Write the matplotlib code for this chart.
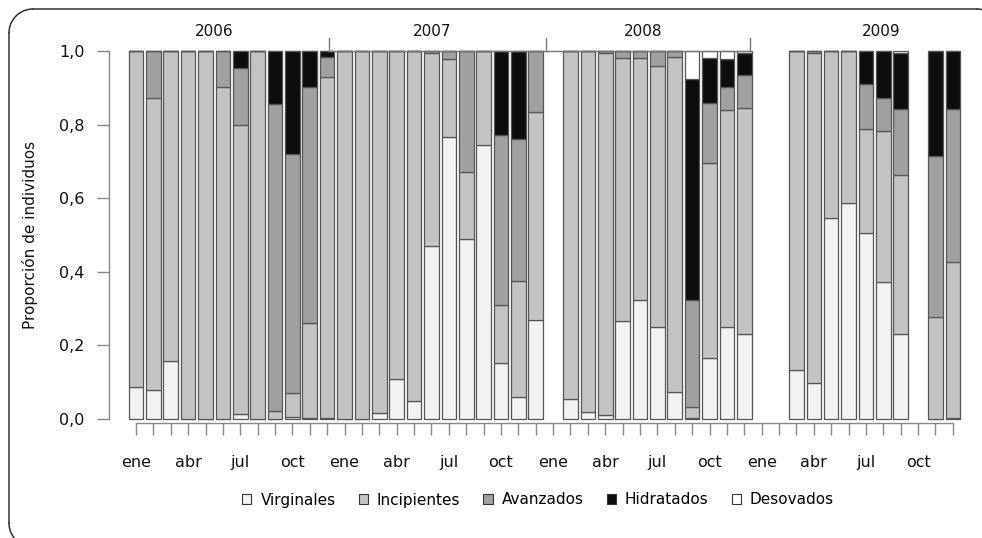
import numpy as np
import matplotlib
matplotlib.use('Agg')
import matplotlib.pyplot as plt
from matplotlib.patches import Patch

plt.rcParams['font.family'] = ['DejaVu Sans']
plt.rcParams['savefig.bbox'] = 'standard'

# one entry per month, jan 2006 .. dec 2009 (None = no sample)
virginales = [0.088, 0.078, 0.158, 0, 0, 0, 0.013, 0, 0, 0.006, 0.004, 0.002,
              0, 0, 0.015, 0.110, 0.049, 0.469, 0.765, 0.490, 0.744, 0.152, 0.061, 0.269,
              None, 0.053, 0.020, 0.011, 0.267, 0.324, 0.249, 0.072, 0.004, 0.165, 0.251, 0.232,
              None, None, 0.133, 0.099, 0.547, 0.587, 0.505, 0.371, 0.232, None, 0, 0.002]
incipientes = [0.912, 0.795, 0.842, 1, 1, 0.901, 0.787, 1, 0.022, 0.064, 0.258, 0.928,
               1, 1, 0.985, 0.890, 0.951, 0.526, 0.212, 0.181, 0.256, 0.158, 0.315, 0.566,
               None, 0.947, 0.980, 0.983, 0.713, 0.656, 0.710, 0.913, 0.029, 0.531, 0.588, 0.614,
               None, None, 0.867, 0.896, 0.453, 0.413, 0.284, 0.411, 0.430, None, 0.276, 0.424]
avanzados = [0, 0.127, 0, 0, 0, 0.099, 0.153, 0, 0.833, 0.649, 0.639, 0.055,
             0, 0, 0, 0, 0, 0.005, 0.023, 0.329, 0, 0.461, 0.386, 0.165,
             None, 0, 0, 0.006, 0.020, 0.020, 0.041, 0.015, 0.291, 0.164, 0.064, 0.088,
             None, None, 0, 0.005, 0, 0, 0.121, 0.089, 0.180, None, 0.439, 0.416]
hidratados = [0, 0, 0, 0, 0, 0, 0.047, 0, 0.145, 0.281, 0.099, 0.015,
              0, 0, 0, 0, 0, 0, 0, 0, 0, 0.229, 0.238, 0,
              None, 0, 0, 0, 0, 0, 0, 0, 0.601, 0.122, 0.074, 0.061,
              None, None, 0, 0, 0, 0, 0.090, 0.129, 0.153, None, 0.285, 0.158]
desovados = [0, 0, 0, 0, 0, 0, 0, 0, 0, 0, 0, 0,
             0, 0, 0, 0, 0, 0, 0, 0, 0, 0, 0, 0,
             None, 0, 0, 0, 0, 0, 0, 0, 0.075, 0.018, 0.023, 0.005,
             None, None, 0, 0, 0, 0, 0, 0, 0.005, None, 0, 0]

stages = ['Virginales', 'Incipientes', 'Avanzados', 'Hidratados', 'Desovados']
colors = ['#f2f2f2', '#c3c3c3', '#a0a0a0', '#0d0d0d', '#ffffff']
month_labels = ['ene', 'abr', 'jul', 'oct'] * 4
years = ['2006', '2007', '2008', '2009']
year_label_pos = [4.5, 17.05, 29.2, 42.9]
year_breaks = [11.1, 23.6, 35.33]

series = [virginales, incipientes, avanzados, hidratados, desovados]
n = len(virginales)
months = np.arange(n)
valid = np.array([v is not None for v in virginales])
data = np.array([[np.nan if v is None else v for v in s] for s in series])

fig = plt.figure(figsize=(9.82, 5.38), dpi=100)

# background axes in pixel units, for the rounded frame
bg = fig.add_axes([0, 0, 1, 1], zorder=-1)
bg.set_xlim(0, 982)
bg.set_ylim(538, 0)
bg.axis('off')
r = 24
t = np.linspace(0, np.pi / 2, 30)
# left edge with both corners, top edge, top-right corner (right/bottom edges fall outside)
left_top = (9 + r - r * np.cos(t), 9 + r - r * np.sin(t))
top_right = (977 + r * np.sin(t), 9 + r - r * np.cos(t))
bottom_left = (9 + r - r * np.cos(t), 523 + r * np.sin(t))
for xs, ys in [left_top, top_right, bottom_left]:
    bg.plot(xs, ys, color='#333333', lw=1.1)
bg.plot([9 + r, 977], [9, 9], color='#333333', lw=1.1)
bg.plot([9, 9], [9 + r, 523], color='#333333', lw=1.1)

ax = fig.add_axes([0.1208, 0.0502, 0.8672, 0.9234])
ax.set_xlim(-1, 48)
ax.set_ylim(-0.25, 1.1)

bottom = np.zeros(n)
for vals, col, name in zip(data, colors, stages):
    ax.bar(months[valid], vals[valid], bottom=bottom[valid], width=0.84,
           color=col, edgecolor='#555555', linewidth=0.9, label=name)
    bottom = bottom + np.nan_to_num(vals)

# year brackets on top
ax.plot([year_breaks[0], year_breaks[-1]], [1, 1], color='#777777', lw=1, clip_on=False)
for b in year_breaks:
    ax.plot([b, b], [1, 1.035], color='#777777', lw=1, clip_on=False)
for y, xp in zip(years, year_label_pos):
    ax.text(xp, 1.052, y, ha='center', va='center', fontsize=11, color='#111111')

# R style axes
for s in ['top', 'right']:
    ax.spines[s].set_visible(False)
ax.spines['left'].set_position(('data', -1.55))
ax.spines['left'].set_bounds(0, 1)
ax.spines['bottom'].set_position(('data', -0.012))
ax.spines['bottom'].set_bounds(0, 47)
for s in ['left', 'bottom']:
    ax.spines[s].set_color('#888888')
    ax.spines[s].set_linewidth(1)

yt = np.arange(0, 1.01, 0.2)
ax.set_yticks(yt)
ax.set_yticklabels([('%.1f' % v).replace('.', ',') for v in yt])
ax.set_xticks(months)
ax.set_xticklabels([month_labels[i // 3] if i % 3 == 0 else '' for i in months])
ax.tick_params(axis='y', length=9, width=1, color='#888888', pad=8.5,
               labelsize=11.5, labelcolor='#111111')
ax.tick_params(axis='x', length=8.6, width=1, color='#888888', pad=14,
               labelsize=11.5, labelcolor='#111111')

fig.text(30 / 982, 1 - 235 / 538, 'Proporción de individuos', rotation=90,
         ha='center', va='center', fontsize=11, color='#111111')

handles = [Patch(facecolor=c, edgecolor='#333333', linewidth=0.8) for c in colors]
fig.legend(handles, stages, loc='center', bbox_to_anchor=(0.548, 1 - 500 / 538),
           ncol=5, frameon=False, fontsize=11, handlelength=0.6, handleheight=0.6,
           handletextpad=0.6, columnspacing=1.5)

fig.savefig('out.png', dpi=100)
